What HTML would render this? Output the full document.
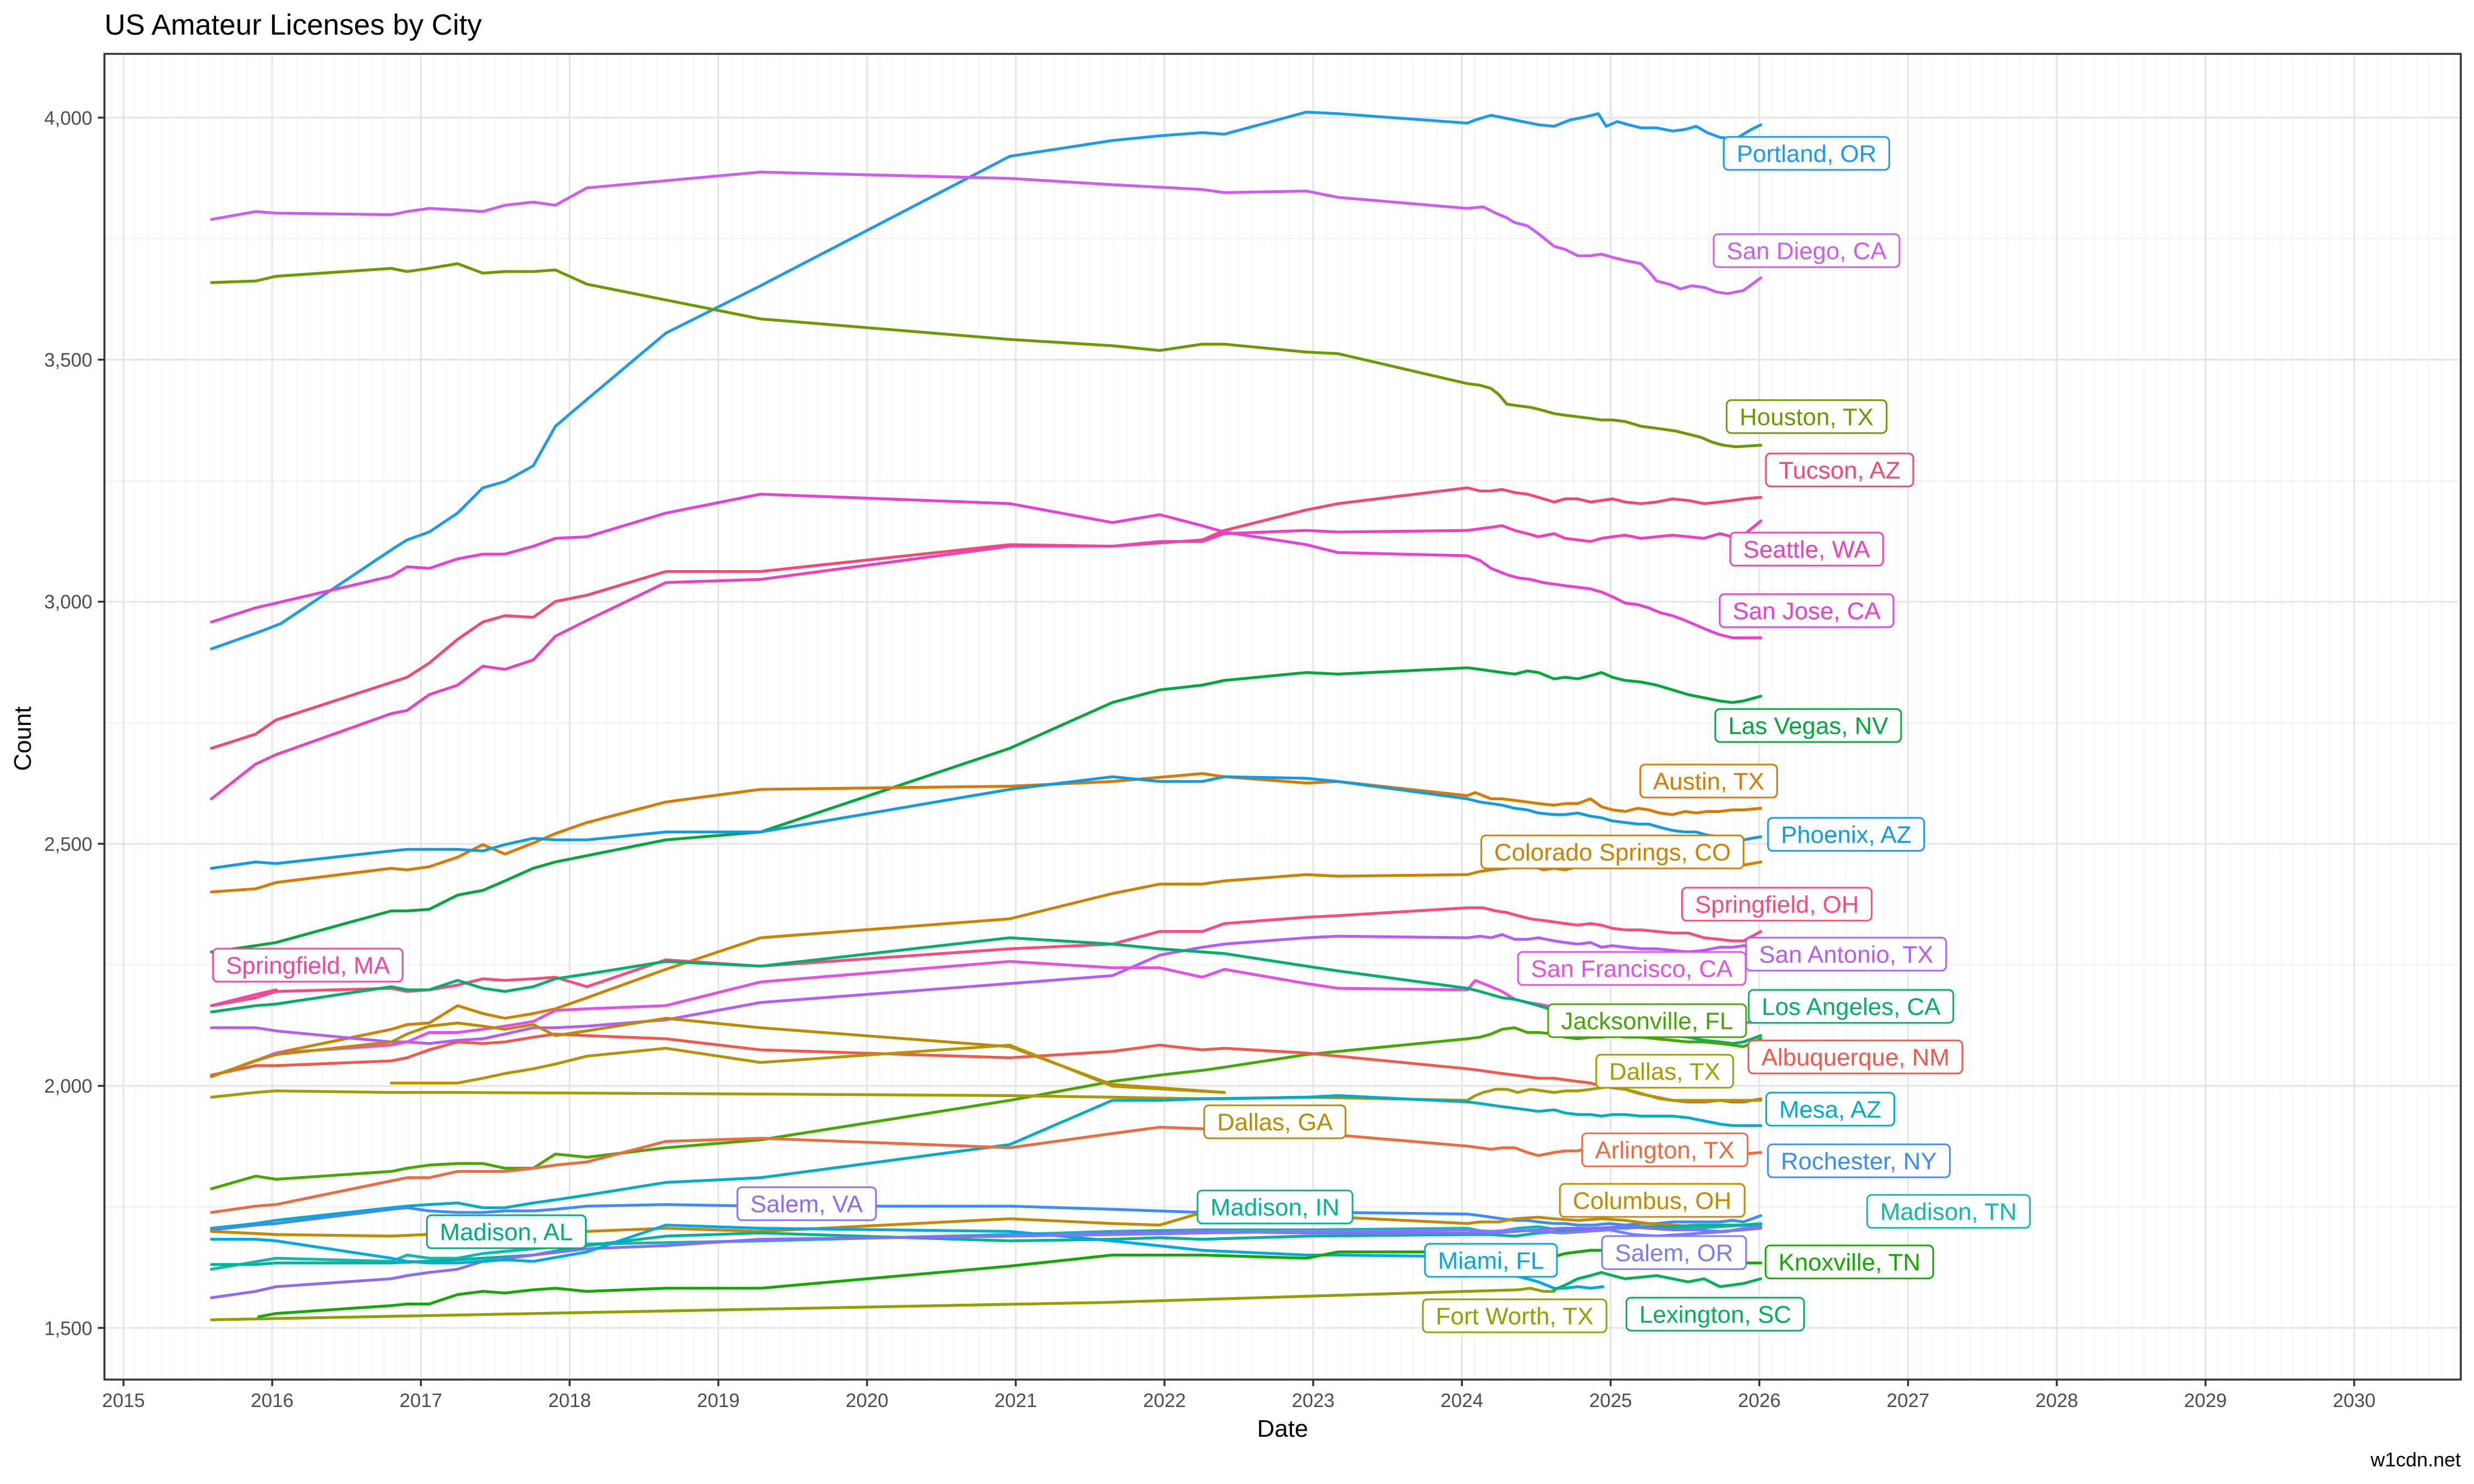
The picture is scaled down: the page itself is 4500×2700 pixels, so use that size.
<!DOCTYPE html>
<html><head><meta charset="utf-8"><style>
html,body{margin:0;padding:0;background:#fff}
#c{position:relative;width:4500px;height:2700px;overflow:hidden;font-family:"Liberation Sans",Arial,sans-serif}
.l{position:absolute;transform:translate(-50%,-50%);height:63px;line-height:59px;padding:0 22px;border:3px solid;border-radius:10px;background:#fff;font-size:44px;white-space:nowrap;box-sizing:border-box}
</style></head><body><div id="c">
<svg width="4500" height="2700" style="position:absolute;left:0;top:0">
<defs>
<pattern id="mv" patternUnits="userSpaceOnUse" x="224.6" y="0" width="22.542" height="10"><rect x="-0.8" y="0" width="1.6" height="10" fill="#ebebeb"/></pattern>
<clipPath id="pc"><rect x="190" y="98" width="4286" height="2412"/></clipPath>
</defs>
<rect x="190" y="98" width="4286" height="2412" fill="#fff"/>
<rect x="190" y="98" width="4286" height="2412" fill="url(#mv)"/>
<g stroke="#ebebeb" stroke-width="1.6">
<line x1="190" x2="4476" y1="434" y2="434"/><line x1="190" x2="4476" y1="875" y2="875"/><line x1="190" x2="4476" y1="1315" y2="1315"/><line x1="190" x2="4476" y1="1755" y2="1755"/><line x1="190" x2="4476" y1="2196" y2="2196"/>
</g>
<g stroke="#e6e6e6" stroke-width="3.2">
<line x1="190" x2="4476" y1="214" y2="214"/><line x1="190" x2="4476" y1="654.4" y2="654.4"/><line x1="190" x2="4476" y1="1094.8" y2="1094.8"/><line x1="190" x2="4476" y1="1535.2" y2="1535.2"/><line x1="190" x2="4476" y1="1975.6" y2="1975.6"/><line x1="190" x2="4476" y1="2416" y2="2416"/>
<line y1="98" y2="2510" x1="224.6" x2="224.6"/><line y1="98" y2="2510" x1="495.1" x2="495.1"/><line y1="98" y2="2510" x1="765.6" x2="765.6"/><line y1="98" y2="2510" x1="1036.1" x2="1036.1"/><line y1="98" y2="2510" x1="1306.6" x2="1306.6"/><line y1="98" y2="2510" x1="1577.1" x2="1577.1"/><line y1="98" y2="2510" x1="1847.6" x2="1847.6"/><line y1="98" y2="2510" x1="2118.1" x2="2118.1"/><line y1="98" y2="2510" x1="2388.6" x2="2388.6"/><line y1="98" y2="2510" x1="2659.1" x2="2659.1"/><line y1="98" y2="2510" x1="2929.6" x2="2929.6"/><line y1="98" y2="2510" x1="3200.1" x2="3200.1"/><line y1="98" y2="2510" x1="3470.6" x2="3470.6"/><line y1="98" y2="2510" x1="3741.1" x2="3741.1"/><line y1="98" y2="2510" x1="4011.6" x2="4011.6"/><line y1="98" y2="2510" x1="4282.1" x2="4282.1"/>
</g>
<g clip-path="url(#pc)"><g transform="scale(2.8699 2.8723)" fill="none" stroke-width="1.8" stroke-linejoin="round" stroke-linecap="round">
<polyline stroke="#1A9AF0" points="134,411 165,400 178,395 250,347 258,342 272,337 290,325 306,309 320,305 338,295 352,270 372,253 422,211 482,181 640,99 705,89 735,86 762,84 776,85 828,71 848,72 930,78 935,76 945,73 955,75 965,77 975,79 985,80 995,76 1005,74 1013,72 1018,80 1025,77 1032,79 1040,81 1050,81 1060,83 1068,82 1075,80 1082,84 1090,87 1100,88 1110,82 1116,79"/>
<polyline stroke="#CF5BF5" points="134,139 162,134 175,135 248,136 258,134 272,132 290,133 306,134 320,130 338,128 352,130 372,119 482,109 640,113 705,117 762,120 776,122 828,121 848,125 930,132 940,131 948,135 955,138 960,141 968,143 975,148 985,156 992,158 1000,162 1008,162 1015,161 1022,163 1030,165 1040,167 1045,172 1050,178 1058,180 1065,183 1072,181 1080,182 1088,185 1095,186 1105,184 1116,176"/>
<polyline stroke="#6B9A00" points="134,179 162,178 175,175 248,170 258,172 272,170 290,167 306,173 320,172 338,172 352,171 372,180 422,190 482,202 640,215 705,219 735,222 762,218 776,218 828,223 848,224 930,243 938,244 945,246 950,250 955,256 962,257 970,258 978,260 985,262 992,263 1000,264 1008,265 1015,266 1022,266 1030,267 1040,270 1048,271 1055,272 1062,273 1070,275 1078,277 1085,280 1092,282 1100,283 1116,282"/>
<polyline stroke="#F8476F" points="134,474 162,465 175,456 258,429 272,420 290,405 306,394 320,390 338,391 352,381 372,377 422,362 482,362 640,345 705,346 762,342 776,336 828,323 848,319 930,309 938,311 945,311 952,310 960,312 968,313 975,315 985,318 992,316 1000,316 1008,318 1015,317 1022,316 1030,318 1040,319 1050,318 1060,316 1070,317 1080,319 1090,318 1098,317 1105,316 1116,315"/>
<polyline stroke="#F03FBE" points="134,506 162,484 175,478 248,452 258,450 272,440 290,434 306,422 320,424 338,418 352,403 372,393 422,369 482,367 640,346 705,346 735,343 762,343 776,338 828,336 848,337 930,336 945,334 952,333 960,336 968,338 975,340 985,338 992,341 1000,342 1008,343 1015,341 1022,340 1030,339 1040,341 1050,340 1060,339 1070,340 1080,341 1090,338 1098,340 1105,339 1116,330"/>
<polyline stroke="#E83FD6" points="134,394 162,385 175,382 248,365 258,359 272,360 290,354 306,351 320,351 338,346 352,341 372,340 422,325 482,313 640,319 705,331 735,326 762,333 776,337 828,345 848,350 930,352 938,355 945,360 955,364 962,366 970,367 978,369 985,370 992,371 1000,372 1008,373 1015,375 1022,378 1030,382 1038,383 1045,385 1052,388 1060,390 1068,393 1075,396 1082,399 1090,402 1098,404 1105,404 1116,404"/>
<polyline stroke="#00A83A" points="134,603 162,599 175,597 248,577 258,577 272,576 290,567 306,564 320,558 338,550 352,546 372,542 422,532 482,527 640,474 705,445 735,437 762,434 776,431 828,426 848,427 930,423 938,424 945,425 952,426 960,427 968,425 975,426 985,430 992,429 1000,430 1008,428 1015,426 1022,429 1030,431 1040,432 1050,434 1060,437 1070,440 1080,442 1090,444 1098,445 1105,444 1116,441"/>
<polyline stroke="#DA7800" points="134,565 162,563 175,559 248,550 258,551 272,549 290,543 306,535 320,541 338,534 352,528 372,521 422,508 482,500 640,498 705,495 762,490 776,492 828,496 848,495 930,504 935,502 945,506 952,506 960,507 968,508 975,509 985,510 992,509 1000,509 1008,506 1015,511 1022,513 1030,514 1038,512 1045,513 1052,515 1060,516 1068,514 1075,515 1082,514 1090,514 1098,513 1105,513 1116,512"/>
<polyline stroke="#119BE6" points="134,550 162,546 175,547 248,539 258,538 272,538 290,538 306,539 320,535 338,531 352,532 372,532 422,527 482,527 640,500 705,492 735,495 762,495 776,492 828,493 848,495 930,506 938,508 945,509 952,510 960,512 968,513 975,515 985,516 992,516 1000,515 1008,517 1015,518 1022,520 1030,521 1038,522 1045,522 1052,524 1060,526 1068,527 1075,527 1082,529 1090,530 1098,532 1105,532 1116,530"/>
<polyline stroke="#D08000" points="134,682 175,667 248,652 258,649 272,648 290,637 306,642 320,645 338,642 352,639 372,632 422,614 482,594 640,582 705,566 735,560 762,560 776,558 828,554 848,555 930,554 938,552 945,551 955,550 962,549 970,548 978,551 985,550 992,551 1000,549 1008,547 1015,546 1022,548 1030,548 1040,549 1050,548 1060,547 1070,548 1080,549 1090,549 1098,548 1105,548 1116,546"/>
<polyline stroke="#FF4A7A" points="134,637 162,632 175,628 248,626 258,628 272,627 290,624 306,620 320,621 338,620 352,619 372,625 422,608 482,612 640,601 705,598 735,590 762,590 776,585 828,581 848,580 930,575 940,575 948,577 955,578 962,580 970,582 978,583 985,584 992,585 1000,586 1008,585 1015,586 1022,588 1030,589 1040,589 1050,590 1060,591 1070,591 1080,594 1090,595 1098,596 1105,596 1116,590"/>
<polyline stroke="#F545A0" points="134,637 162,630 175,627"/>
<polyline stroke="#B45CFF" points="134,651 162,651 175,653 248,660 258,660 272,661 290,659 306,658 320,655 338,651 352,651 372,650 422,646 482,635 640,623 705,618 735,605 762,600 776,598 828,594 848,593 930,594 938,593 945,594 952,592 960,595 968,595 975,594 985,596 992,597 1000,598 1008,597 1015,600 1022,599 1030,600 1040,601 1050,601 1060,602 1070,603 1080,602 1090,600 1098,600 1105,599 1116,600"/>
<polyline stroke="#E64FE6" points="134,682 162,672 175,667 248,662 258,660 272,654 290,654 306,652 320,650 338,647 352,640 372,639 422,637 482,622 640,609 705,613 735,613 762,619 776,614 828,623 848,626 930,627 935,621 945,625 952,628 960,633 968,635 975,636 985,638 992,639 1000,640 1008,641 1015,642 1022,642 1030,643 1040,644 1050,645 1060,646 1070,647 1080,648 1090,649 1098,648 1105,648 1116,647"/>
<polyline stroke="#00B06A" points="134,641 162,637 175,636 248,625 258,627 272,627 290,621 306,626 320,628 338,625 352,620 372,617 422,609 482,612 640,594 705,598 735,601 762,603 776,604 828,612 848,615 930,626 938,628 945,630 952,632 960,633 968,635 975,637 985,640 992,643 1000,645 1008,647 1015,649 1022,650 1030,652 1040,653 1050,655 1060,656 1070,657 1080,659 1090,660 1098,661 1105,660 1116,656"/>
<polyline stroke="#45A800" points="134,753 162,745 175,747 248,742 258,740 272,738 290,737 306,737 320,740 338,740 352,731 372,733 422,727 482,722 640,697 705,685 735,681 762,678 776,676 828,668 848,666 930,658 938,657 945,655 952,652 960,651 968,654 975,654 985,655 992,657 1000,658 1008,657 1015,657 1022,656 1030,657 1040,657 1050,658 1060,659 1070,660 1080,660 1090,661 1098,662 1105,663 1116,658"/>
<polyline stroke="#F6574A" points="134,681 162,675 175,675 248,672 258,670 272,665 290,660 306,661 320,660 338,657 352,655 372,656 422,658 482,665 640,670 705,666 735,662 762,665 776,664 828,667 848,669 930,677 938,678 945,679 952,680 960,681 968,682 975,683 985,683 992,684 1000,685 1008,686 1015,688 1022,689 1030,690 1040,693 1050,695 1060,697 1070,698 1080,698 1090,697 1098,698 1105,698 1116,696"/>
<polyline stroke="#A89A00" points="134,695 162,692 175,691 248,692 290,692 482,693 640,694 705,695 762,696 828,695 930,697 935,694 940,692 948,690 955,690 962,692 970,690 978,691 985,692 992,691 1000,691 1008,690 1015,689 1022,688 1030,690 1038,692 1045,694 1052,696 1060,697 1070,697 1080,697 1090,697 1100,697 1116,697"/>
<polyline stroke="#BA8A00" points="134,682 162,672 175,668 248,660 258,655 272,650 290,648 306,650 320,652 338,649 352,656 372,653 422,645 482,651 640,663 705,687 762,691 776,692"/>
<polyline stroke="#B89200" points="248,686 258,686 272,686 290,686 306,683 320,680 338,677 352,674 372,669 422,664 482,673 640,662 705,688 776,692"/>
<polyline stroke="#00ACC8" points="134,778 162,775 175,773 248,765 258,764 272,763 290,762 306,765 320,765 338,762 352,760 372,757 422,749 482,746 640,725 705,697 735,697 762,696 776,696 828,695 848,694 930,698 938,699 945,700 952,701 960,702 968,703 975,704 985,703 992,705 1000,706 1008,706 1015,707 1022,706 1030,706 1040,707 1050,707 1060,707 1070,708 1080,710 1090,712 1098,713 1105,713 1116,713"/>
<polyline stroke="#EE6A3F" points="134,768 162,764 175,763 248,748 258,746 272,746 290,742 306,742 320,742 338,740 352,738 372,736 422,723 482,721 640,727 705,718 735,714 762,715 776,715 828,720 848,719 930,726 938,727 945,728 952,727 960,727 968,730 975,732 985,730 992,729 1000,729 1008,727 1015,728 1022,730 1030,731 1040,729 1050,727 1060,728 1070,729 1080,731 1090,732 1098,731 1105,731 1116,730"/>
<polyline stroke="#3C8CFF" points="134,779 162,776 175,775 248,766 258,765 272,767 290,768 306,768 320,767 338,767 352,766 372,764 422,763 482,764 640,764 705,766 762,768 828,769 848,768 930,769 938,770 945,771 952,772 960,773 968,773 975,774 985,775 992,775 1000,776 1010,776 1020,775 1030,776 1040,775 1050,775 1060,774 1070,774 1080,774 1090,774 1098,773 1105,774 1116,770"/>
<polyline stroke="#C48900" points="134,780 175,782 248,783 290,781 338,779 372,780 422,778 482,780 640,772 705,775 735,776 762,768 828,770 930,775 938,774 950,774 960,772 975,771 985,772 1000,773 1015,772 1030,773 1045,775 1060,776 1075,777 1090,777 1105,776 1116,775"/>
<polyline stroke="#10B8B0" points="134,804 175,797 248,799 258,795 272,797 290,797 306,794 338,791 372,788 482,786 640,782 705,780 762,779 828,779 930,778 940,780 950,780 962,778 975,777 988,779 1000,779 1015,778 1030,778 1045,777 1060,778 1075,778 1090,777 1105,776 1116,775"/>
<polyline stroke="#00B49A" points="134,801 162,801 175,800 248,800 290,798 338,795 372,789 422,783 482,781 640,786 705,785 735,784 762,785 828,783 930,782 945,782 960,783 975,781 990,780 1010,779 1030,777 1045,777 1060,777 1075,776 1090,776 1105,776 1116,776"/>
<polyline stroke="#8B6BFF" points="134,822 162,818 175,815 248,810 258,808 272,806 290,804 306,799 338,795 372,791 422,789 482,785 640,783 705,781 762,780 828,781 930,781 945,781 960,780 975,779 990,778 1010,778 1030,777 1045,778 1060,779 1075,779 1090,780 1105,779 1116,778"/>
<polyline stroke="#00A9E0" points="134,785 162,785 175,786 248,797 258,799 272,800 290,800 306,799 320,798 338,799 372,793 422,776 482,778 640,780 705,786 762,792 828,795 848,795 930,796 938,798 945,800 952,804 960,808 968,810 975,812 985,816 992,816 1000,815 1008,816 1016,815"/>
<polyline stroke="#7B7BFF" points="640,783 705,782 762,781 828,780 930,779 945,780 960,779 975,780 990,781 1005,780 1020,779 1035,782 1050,783 1065,782 1080,781 1095,780 1105,778 1116,777"/>
<polyline stroke="#14A800" points="164,834 175,832 248,827 258,826 272,826 290,820 306,818 320,819 338,817 352,816 372,818 422,816 482,816 640,802 705,795 735,795 762,795 828,797 848,793 930,793 938,794 945,795 952,796 960,797 968,797 975,798 985,796 992,794 1000,793 1008,792 1015,792 1022,791 1030,791 1040,792 1050,793 1060,794 1070,795 1080,797 1090,798 1098,799 1105,800 1116,800"/>
<polyline stroke="#8FA000" points="134,836 700,825 962,817 970,816 978,818 985,818"/>
<polyline stroke="#00B15A" points="985,817 992,814 1000,810 1008,808 1015,806 1022,808 1030,810 1040,809 1050,808 1060,810 1070,812 1080,810 1090,815 1098,814 1105,813 1116,810"/>
</g></g>
<rect x="190" y="98" width="4286" height="2412" fill="none" stroke="#333" stroke-width="3.5"/>
<g stroke="#333" stroke-width="3.5">
<line x1="178" x2="190" y1="214" y2="214"/><line x1="178" x2="190" y1="654.4" y2="654.4"/><line x1="178" x2="190" y1="1094.8" y2="1094.8"/><line x1="178" x2="190" y1="1535.2" y2="1535.2"/><line x1="178" x2="190" y1="1975.6" y2="1975.6"/><line x1="178" x2="190" y1="2416" y2="2416"/>
<line y1="2510" y2="2522" x1="224.6" x2="224.6"/><line y1="2510" y2="2522" x1="495.1" x2="495.1"/><line y1="2510" y2="2522" x1="765.6" x2="765.6"/><line y1="2510" y2="2522" x1="1036.1" x2="1036.1"/><line y1="2510" y2="2522" x1="1306.6" x2="1306.6"/><line y1="2510" y2="2522" x1="1577.1" x2="1577.1"/><line y1="2510" y2="2522" x1="1847.6" x2="1847.6"/><line y1="2510" y2="2522" x1="2118.1" x2="2118.1"/><line y1="2510" y2="2522" x1="2388.6" x2="2388.6"/><line y1="2510" y2="2522" x1="2659.1" x2="2659.1"/><line y1="2510" y2="2522" x1="2929.6" x2="2929.6"/><line y1="2510" y2="2522" x1="3200.1" x2="3200.1"/><line y1="2510" y2="2522" x1="3470.6" x2="3470.6"/><line y1="2510" y2="2522" x1="3741.1" x2="3741.1"/><line y1="2510" y2="2522" x1="4011.6" x2="4011.6"/><line y1="2510" y2="2522" x1="4282.1" x2="4282.1"/>
</g>
<g font-family="Liberation Sans, Arial, sans-serif" font-size="35" fill="#4d4d4d" text-anchor="end">
<text x="168" y="227">4,000</text><text x="168" y="667">3,500</text><text x="168" y="1107">3,000</text><text x="168" y="1548">2,500</text><text x="168" y="1988">2,000</text><text x="168" y="2429">1,500</text>
</g>
<g font-family="Liberation Sans, Arial, sans-serif" font-size="35" fill="#4d4d4d" text-anchor="middle">
<text x="224.6" y="2560">2015</text><text x="495.1" y="2560">2016</text><text x="765.6" y="2560">2017</text><text x="1036.1" y="2560">2018</text><text x="1306.6" y="2560">2019</text><text x="1577.1" y="2560">2020</text><text x="1847.6" y="2560">2021</text><text x="2118.1" y="2560">2022</text><text x="2388.6" y="2560">2023</text><text x="2659.1" y="2560">2024</text><text x="2929.6" y="2560">2025</text><text x="3200.1" y="2560">2026</text><text x="3470.6" y="2560">2027</text><text x="3741.1" y="2560">2028</text><text x="4011.6" y="2560">2029</text><text x="4282.1" y="2560">2030</text>
</g>
<text x="2333" y="2614" font-family="Liberation Sans, Arial, sans-serif" font-size="44" text-anchor="middle" fill="#000">Date</text>
<text transform="translate(56 1344) rotate(-90)" font-family="Liberation Sans, Arial, sans-serif" font-size="44" text-anchor="middle" fill="#000">Count</text>
<text x="190" y="63" font-family="Liberation Sans, Arial, sans-serif" font-size="53" fill="#000">US Amateur Licenses by City</text>
<text x="4476" y="2668" font-family="Liberation Sans, Arial, sans-serif" font-size="36" text-anchor="end" fill="#000">w1cdn.net</text>
</svg>
<div class="l" style="left:3286px;top:279px;color:#1A9AF0">Portland, OR</div>
<div class="l" style="left:3286px;top:456px;color:#CF5BF5">San Diego, CA</div>
<div class="l" style="left:3286px;top:758px;color:#6B9A00">Houston, TX</div>
<div class="l" style="left:3346px;top:855px;color:#F8476F">Tucson, AZ</div>
<div class="l" style="left:3286px;top:999px;color:#F03FBE">Seattle, WA</div>
<div class="l" style="left:3286px;top:1111px;color:#E83FD6">San Jose, CA</div>
<div class="l" style="left:3289px;top:1320px;color:#00A83A">Las Vegas, NV</div>
<div class="l" style="left:3108px;top:1421px;color:#DA7800">Austin, TX</div>
<div class="l" style="left:3358px;top:1518px;color:#119BE6">Phoenix, AZ</div>
<div class="l" style="left:2933px;top:1550px;color:#D08000">Colorado Springs, CO</div>
<div class="l" style="left:3232px;top:1645px;color:#FF4A7A">Springfield, OH</div>
<div class="l" style="left:560px;top:1756px;color:#F545A0">Springfield, MA</div>
<div class="l" style="left:3358px;top:1736px;color:#B45CFF">San Antonio, TX</div>
<div class="l" style="left:2968px;top:1762px;color:#E64FE6">San Francisco, CA</div>
<div class="l" style="left:3367px;top:1831px;color:#00B06A">Los Angeles, CA</div>
<div class="l" style="left:2996px;top:1857px;color:#45A800">Jacksonville, FL</div>
<div class="l" style="left:3375px;top:1923px;color:#F6574A">Albuquerque, NM</div>
<div class="l" style="left:3028px;top:1949px;color:#A89A00">Dallas, TX</div>
<div class="l" style="left:2319px;top:2041px;color:#BA8A00">Dallas, GA</div>
<div class="l" style="left:3329px;top:2018px;color:#00ACC8">Mesa, AZ</div>
<div class="l" style="left:3028px;top:2092px;color:#EE6A3F">Arlington, TX</div>
<div class="l" style="left:3381px;top:2112px;color:#3C8CFF">Rochester, NY</div>
<div class="l" style="left:3544px;top:2204px;color:#10B8B0">Madison, TN</div>
<div class="l" style="left:1467px;top:2190px;color:#8B6BFF">Salem, VA</div>
<div class="l" style="left:2319px;top:2196px;color:#00B49A">Madison, IN</div>
<div class="l" style="left:3005px;top:2184px;color:#C48900">Columbus, OH</div>
<div class="l" style="left:921px;top:2241px;color:#00AD7A">Madison, AL</div>
<div class="l" style="left:2712px;top:2293px;color:#00A9E0">Miami, FL</div>
<div class="l" style="left:3045px;top:2279px;color:#7B7BFF">Salem, OR</div>
<div class="l" style="left:3364px;top:2296px;color:#14A800">Knoxville, TN</div>
<div class="l" style="left:2755px;top:2394px;color:#8FA000">Fort Worth, TX</div>
<div class="l" style="left:3120px;top:2391px;color:#00B15A">Lexington, SC</div>
</div></body></html>
